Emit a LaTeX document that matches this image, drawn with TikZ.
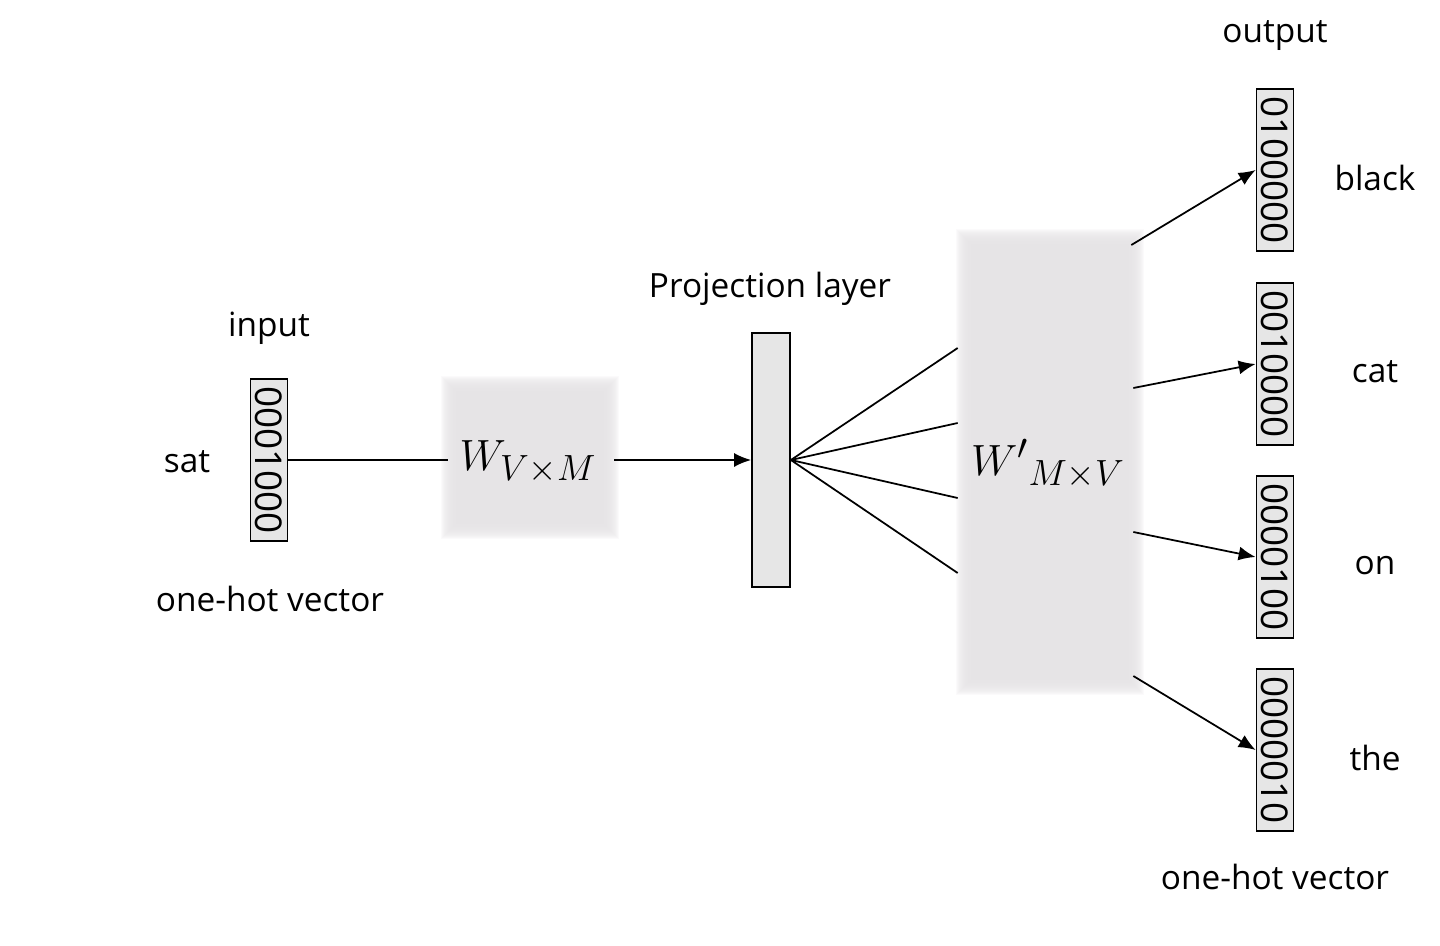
\documentclass[tikz,border=0pt]{standalone}
\usepackage{fontspec}
\setmainfont{Open Sans}
\usetikzlibrary{arrows.meta,positioning,calc}
\definecolor{vecgray}{RGB}{230,230,230}
\definecolor{wgray}{RGB}{229,227,229}
\tikzset{
    lbl/.style={font=\fontsize{19}{22}\selectfont},
    vec/.style={draw, line width=1pt, fill=vecgray, rotate=-90, inner sep=0pt,
        minimum width=3.24cm, minimum height=0.74cm, font=\fontsize{21}{22}\selectfont},
    wbox/.style={inner sep=0pt, font=\fontsize{30}{32}\selectfont},
    conn/.style={line width=1pt},
    arr/.style={conn, -{Latex[length=3.4mm,width=2.8mm]}}
}
\begin{document}
\begin{tikzpicture}[x=0.02cm, y=-0.02cm]
    \useasboundingbox (0,0) rectangle (1440,946);
    % soft shaded weight matrices
    \foreach \k in {0,...,17} {
        \fill[wgray, opacity=0.17] (441+\k,376+\k) rectangle (619-\k,539-\k);
        \fill[wgray, opacity=0.17] (956+\k,229+\k) rectangle (1144-\k,695-\k);
    }
    \node[wbox, minimum width=3.2cm, minimum height=2.9cm] (wvm) at (528,462) {$W_{V\times M}$};
    \node[wbox, minimum width=3.4cm, minimum height=8.96cm] (wmv) at (1048,464) {${W'}_{M\times V}$};

    % input side
    \node[vec] (in) at (269,460) {0001000};
    \node[lbl] (inlbl) at (269,328) {input};
    \node[lbl] (sat) at (187,462) {sat};
    \node[lbl] (inhot) at (270,599) {one-hot vector};

    % projection layer
    \node[draw, line width=1pt, fill=vecgray, minimum width=0.76cm, minimum height=5.08cm, inner sep=0pt] (proj) at (771,460) {};
    \node[lbl] (projlbl) at (770,289) {Projection layer};

    % output side
    \node[vec] (out1) at (1275,170) {0100000};
    \node[vec] (out2) at (1275,364) {0010000};
    \node[vec] (out3) at (1275,557) {0000100};
    \node[vec] (out4) at (1275,750) {0000010};
    \node[lbl] (black) at (1375,178) {black};
    \node[lbl] (cat) at (1375,372) {cat};
    \node[lbl] (on) at (1375,566) {on};
    \node[lbl] (the) at (1375,758) {the};
    \node[lbl] (outlbl) at (1275,36) {output};
    \node[lbl] (outhot) at (1275,877) {one-hot vector};

    \draw[conn] (in.north) -- (wvm.west |- in.north);
    \draw[arr]  ($(wvm.east |- proj.west)+(6,0)$) -- (proj.west);
    \foreach \dy in {-116,-41,34,109}
        \draw[conn] (proj.east) -- ($(wmv.west)+(-5,\dy)$);
    \draw[arr] ($(wmv.east)+(-2,-219)$) -- (out1.south);
    \draw[arr] ($(wmv.east)+(0,-76)$) -- (out2.south);
    \draw[arr] ($(wmv.east)+(0,68)$) -- (out3.south);
    \draw[arr] ($(wmv.east)+(0,212)$) -- (out4.south);
\end{tikzpicture}
\end{document}
